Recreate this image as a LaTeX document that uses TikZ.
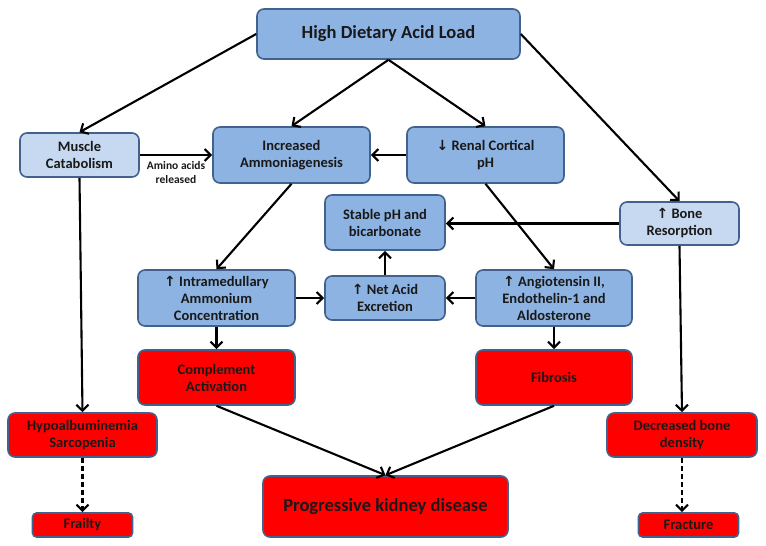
\documentclass[tikz,border=0pt]{standalone}
\usepackage{fontspec}
\setmainfont{Carlito}
\newfontfamily\symfont{DejaVu Sans}
\usetikzlibrary{arrows.meta}
\definecolor{medblue}{HTML}{8DB3E2}
\definecolor{lightblue}{HTML}{C6D9F1}
\definecolor{bord}{HTML}{41628C}
\definecolor{redfill}{HTML}{FF0000}
\newcommand{\upar}{{\symfont\fontsize{14}{17}\selectfont ↑}}
\newcommand{\dnar}{{\symfont\fontsize{14}{17}\selectfont ↓}}
\tikzset{
  box/.style={draw=bord, line width=1.6pt, rounded corners=7pt, align=center,
    inner sep=0pt, font=\bfseries\fontsize{14.5}{17}\selectfont, text=black!90},
  bluebox/.style={box, fill=medblue},
  lightbox/.style={box, fill=lightblue},
  redbox/.style={box, fill=redfill},
  arr/.style={-{Straight Barb[length=6pt,width=12pt]}, line width=2.1pt},
  darr/.style={arr, dash pattern=on 5pt off 3pt},
}
\begin{document}
\begin{tikzpicture}[x=1pt,y=-1pt]
\useasboundingbox (0,0) rectangle (766,546);
\node[bluebox, minimum width=263pt, minimum height=50pt, font=\bfseries\fontsize{18.5}{22}\selectfont] (top) at (388.5,34) {High Dietary Acid Load};
\node[lightbox, minimum width=119pt, minimum height=44pt] (mus) at (79.5,155) {Muscle\\Catabolism};
\node[bluebox, minimum width=157pt, minimum height=56pt] (amm) at (291.5,155) {Increased\\Ammoniagenesis};
\node[bluebox, minimum width=157pt, minimum height=56pt] (ren) at (485.5,155) {\dnar\ Renal Cortical\\pH};
\node[bluebox, minimum width=120pt, minimum height=55pt] (stab) at (385,222.5) {Stable pH and\\bicarbonate};
\node[lightbox, minimum width=119pt, minimum height=43pt] (bone) at (679.5,223.5) {\upar\ Bone\\Resorption};
\node[bluebox, minimum width=157pt, minimum height=56pt] (intra) at (216.5,298) {\upar\ Intramedullary\\Ammonium\\Concentration};
\node[bluebox, minimum width=120pt, minimum height=44pt] (net) at (385,298) {\upar\ Net Acid\\Excretion};
\node[bluebox, minimum width=156pt, minimum height=56pt] (ang) at (554,298) {\upar\ Angiotensin II,\\Endothelin-1 and\\Aldosterone};
\node[redbox, minimum width=157pt, minimum height=55pt] (comp) at (216.5,377.5) {Complement\\Activation};
\node[redbox, minimum width=156pt, minimum height=55pt] (fib) at (554,377.5) {Fibrosis};
\node[redbox, minimum width=149pt, minimum height=44pt] (hypo) at (82.5,435) {Hypoalbuminemia\\Sarcopenia};
\node[redbox, minimum width=150pt, minimum height=44pt] (dec) at (682,435) {Decreased bone\\density};
\node[redbox, minimum width=245pt, minimum height=61pt, font=\bfseries\fontsize{18.5}{22}\selectfont] (prog) at (385.5,506.5) {Progressive kidney disease};
\node[redbox, minimum width=100pt, minimum height=24pt, rounded corners=4pt] (frail) at (82.5,525) {Frailty};
\node[redbox, minimum width=100pt, minimum height=24pt, rounded corners=4pt] (frac) at (688.5,525) {Fracture};

\draw[arr] (top.west) -- (mus.north);
\draw[arr] (top.south) -- (amm.north);
\draw[arr] (top.south) -- (ren.north);
\draw[arr] (top.east) -- (bone.north);
\draw[arr] (mus.east) -- (amm.west) node[midway, below=2pt, align=center, font=\bfseries\fontsize{11.5}{14}\selectfont, text=black!90] (lab) {Amino acids\\released};
\draw[arr] (ren.west) -- (amm.east);
\draw[arr] (amm.south) -- (intra.north);
\draw[arr] (ren.south) -- (ang.north);
\draw[arr] (bone.west) -- (bone.west -| stab.east);
\draw[arr] (net.north) -- (stab.south);
\draw[arr] (intra.east) -- (net.west);
\draw[arr] (ang.west) -- (net.east);
\draw[arr] (intra.south) -- (comp.north);
\draw[arr] (ang.south) -- (fib.north);
\draw[arr] (mus.south) -- (hypo.north);
\draw[arr] (bone.south) -- (dec.north);
\draw[arr] (comp.south) -- (prog.north);
\draw[arr] (fib.south) -- (prog.north);
\draw[darr] (hypo.south) -- (frail.north);
\draw[darr] (dec.south) -- (dec.south |- frac.north);
\end{tikzpicture}
\end{document}
